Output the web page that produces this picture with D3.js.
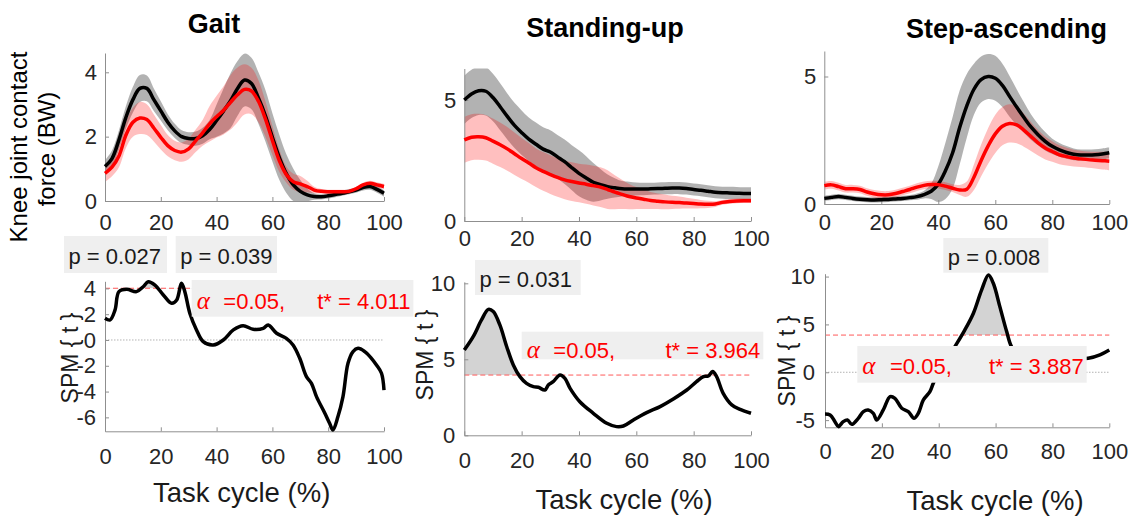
<html>
<head>
<meta charset="utf-8">
<script src="https://cdnjs.cloudflare.com/ajax/libs/d3/7.8.5/d3.min.js"></script>
</head>
<body style="margin: 0;">
<svg id="fig"></svg>
<script>

// task cycle grid (%) for the force curves
var cycle = [0,2.5,5,7.5,10,12.5,15,17.5,20,22.5,25,27.5,30,32.5,35,37.5,40,42.5,45,47.5,50,
             52.5,55,57.5,60,62.5,65,67.5,70,72.5,75,77.5,80,82.5,85,87.5,90,92.5,95,97.5,100]
var xTicks = [0,20,40,60,80,100]

// knee contact force (BW), mean and sd, black and red groups
var gaitBlack   = [1.07,1.32,1.9,2.6,3.15,3.5,3.5,3.15,2.8,2.45,2.18,2.0,1.94,1.94,2.03,2.22,2.5,2.8,3.12,3.5,3.76,
                   3.65,3.2,2.65,1.98,1.35,0.85,0.5,0.3,0.19,0.14,0.13,0.16,0.2,0.24,0.29,0.34,0.42,0.45,0.36,0.24]
var gaitBlackSd = [0.2,0.25,0.3,0.35,0.4,0.42,0.4,0.35,0.3,0.25,0.22,0.2,0.2,0.22,0.25,0.3,0.5,0.7,0.85,0.85,0.82,
                   0.8,0.8,0.8,0.75,0.7,0.6,0.5,0.35,0.2,0.1,0.08,0.08,0.08,0.08,0.08,0.08,0.09,0.1,0.1,0.1]
var gaitRed     = [0.86,1.05,1.4,2.05,2.45,2.58,2.53,2.27,1.98,1.72,1.57,1.52,1.62,1.87,2.12,2.4,2.62,2.82,3.07,3.3,3.47,
                   3.42,3.1,2.55,1.88,1.25,0.82,0.6,0.53,0.45,0.34,0.3,0.29,0.29,0.29,0.3,0.38,0.5,0.55,0.5,0.45]
var gaitRedSd   = [0.27,0.28,0.35,0.4,0.45,0.5,0.48,0.42,0.38,0.33,0.3,0.3,0.32,0.35,0.4,0.55,0.65,0.75,0.85,0.85,0.78,
                   0.72,0.65,0.55,0.45,0.35,0.25,0.25,0.25,0.18,0.1,0.07,0.06,0.06,0.06,0.06,0.06,0.07,0.08,0.08,0.08]

var standBlack   = [5.0,5.25,5.38,5.36,5.1,4.72,4.32,3.95,3.65,3.38,3.17,2.97,2.85,2.65,2.45,2.2,1.97,1.78,1.6,1.5,1.42,
                    1.37,1.33,1.32,1.32,1.32,1.33,1.34,1.35,1.36,1.36,1.34,1.3,1.27,1.23,1.19,1.17,1.16,1.15,1.14,1.14]
var standBlackSd = [1.0,1.0,1.0,1.0,0.98,0.97,0.95,0.93,0.92,0.9,0.9,0.9,0.9,0.9,0.92,0.93,0.95,0.9,0.8,0.65,0.5,
                    0.4,0.32,0.3,0.27,0.26,0.25,0.25,0.25,0.25,0.25,0.25,0.25,0.25,0.25,0.25,0.25,0.25,0.25,0.25,0.25]
var standRed     = [3.35,3.46,3.48,3.44,3.3,3.15,2.98,2.78,2.58,2.4,2.2,2.05,1.92,1.8,1.7,1.63,1.57,1.52,1.46,1.4,1.3,
                    1.19,1.1,1.01,0.95,0.9,0.85,0.82,0.79,0.77,0.76,0.74,0.72,0.7,0.69,0.7,0.77,0.81,0.83,0.84,0.84]
var standRedSd   = [0.95,0.95,0.95,0.94,0.93,0.92,0.9,0.88,0.85,0.82,0.8,0.8,0.8,0.8,0.8,0.8,0.8,0.81,0.82,0.82,0.8,
                    0.7,0.6,0.52,0.45,0.4,0.35,0.32,0.3,0.27,0.25,0.22,0.2,0.17,0.15,0.12,0.1,0.1,0.1,0.1,0.1]

var stepBlack   = [0.22,0.26,0.29,0.26,0.22,0.19,0.17,0.16,0.17,0.18,0.2,0.22,0.25,0.29,0.37,0.5,0.78,1.3,2.0,3.0,3.85,
                   4.5,4.88,5.0,4.93,4.65,4.22,3.8,3.4,3.02,2.72,2.46,2.26,2.12,2.02,1.95,1.92,1.92,1.93,1.96,2.01]
var stepBlackSd = [0.1,0.1,0.1,0.1,0.1,0.1,0.1,0.1,0.1,0.1,0.1,0.1,0.1,0.12,0.15,0.3,0.7,1.1,1.4,1.45,1.25,
                   1.0,0.9,0.88,0.88,0.85,0.8,0.7,0.6,0.5,0.42,0.36,0.3,0.27,0.25,0.23,0.22,0.22,0.22,0.22,0.22]
var stepRed     = [0.72,0.75,0.68,0.6,0.6,0.57,0.47,0.4,0.36,0.36,0.41,0.49,0.57,0.66,0.73,0.76,0.76,0.7,0.62,0.55,0.58,
                   1.05,1.7,2.28,2.75,3.05,3.16,3.1,2.9,2.65,2.4,2.2,2.06,1.93,1.86,1.8,1.77,1.74,1.72,1.7,1.68]
var stepRedSd   = [0.15,0.15,0.15,0.15,0.15,0.15,0.15,0.15,0.15,0.15,0.15,0.15,0.15,0.15,0.15,0.15,0.15,0.15,0.15,0.2,0.3,
                   0.5,0.62,0.7,0.75,0.75,0.75,0.72,0.65,0.57,0.5,0.45,0.4,0.37,0.35,0.33,0.32,0.32,0.33,0.35,0.36]

// SPM{t} curves
var gaitSpmX = [0,1.8,3.6,5,7.8,11.3,13.7,15.5,17.9,20.9,23.9,25.7,27.4,28.6,30.4,32.8,35.2,38.8,42.4,46,49.5,53.1,
                56.7,58.5,61.5,65,67.4,69.8,72.2,74,75.8,78.8,80.5,81.7,83.5,85.3,87.1,88.9,90.7,93.1,95.5,97.3,99.1,100]
var gaitSpmT = [1.68,1.55,2.33,3.75,3.93,3.75,4.13,4.52,4.26,3.49,2.84,3.1,4.39,3.75,2.07,0.78,-0.13,-0.39,0,0.78,1.11,0.83,
                0.9,1.16,0.52,0.13,-0.39,-1.42,-2.84,-3.36,-4.39,-5.68,-6.46,-6.98,-5.94,-4.39,-1.81,-0.9,-0.65,-0.9,-1.42,-1.94,-2.58,-3.88]

var standSpmX = [0,3.1,6,8.4,10.1,12.4,14.8,17.1,19.4,21.7,24.1,25.8,28.1,29.3,31,33.4,35.1,36.9,40.3,45,49.7,53.1,
                 55.5,59,63.6,68.3,72.9,77.6,81,83.4,85.1,86.6,88,90.3,93.3,96.2,100]
var standSpmT = [5.61,6.49,7.59,8.29,8.14,7.26,5.83,4.63,3.86,3.42,3.2,3.16,2.98,3.31,3.53,3.97,3.75,3.09,2.21,1.45,0.79,0.57,
                 0.61,1.01,1.49,1.89,2.39,2.98,3.53,3.86,3.9,4.19,3.86,2.76,2.0,1.71,1.45]

var stepSpmX = [0,1.8,3.5,4.7,6.4,7.9,9.4,11.7,13.5,15.2,17,18.2,20.5,22.9,24.6,27,29.3,31.3,32.8,34.6,36.9,38.1,
                40.4,42.8,45.7,49.2,52.2,55.1,57.5,59.2,61.5,63.9,65.6,68,72,76,80,84,88,92.6,96.7,100]
var stepSpmT = [-4.36,-4.46,-5.16,-5.68,-5.16,-4.98,-5.44,-4.81,-4.11,-3.94,-4.29,-4.98,-3.94,-2.54,-2.72,-3.76,-4.11,-4.81,-4.29,-2.89,-2.02,-1.15,
                0.24,1.29,2.68,4.43,6.17,8.61,10.17,9.3,6.86,4.25,2.68,1.9,1.4,1.2,1.15,1.25,1.4,1.46,1.82,2.33]

var tCrit = [4.011, 3.964, 3.887]
var pValues = [["p = 0.027", "p = 0.039"], ["p = 0.031"], ["p = 0.008"]]
var titles = ["Gait", "Standing-up", "Step-ascending"]


var svg = d3.select("#fig")
  .attr("width", 1132)
  .attr("height", 517)
  .style("font-family", "'Liberation Sans', Arial, sans-serif")

var axisColor = "#8f8f8f"
var tickColor = "#262626"
var plainNum = function(d) { return String(d) }   // MATLAB style: "-6", "4"

function styleAxis(g) {
  g.select(".domain").attr("stroke", axisColor)
  g.selectAll(".tick line").attr("stroke", axisColor)
  g.selectAll(".tick text").attr("fill", tickColor).attr("font-size", 22)
    .attr("font-family", "'Liberation Sans', Arial, sans-serif")
}

function axes(p, x, y) {
  svg.append("g").attr("transform", "translate(0," + p.bottom + ")")
    .call(d3.axisBottom(x).tickValues(xTicks).tickFormat(plainNum)
      .tickSizeInner(-4).tickSizeOuter(0).tickPadding(p.padX))
    .call(styleAxis)
  svg.append("g").attr("transform", "translate(" + p.left + ",0)")
    .call(d3.axisLeft(y).tickValues(p.yticks).tickFormat(plainNum)
      .tickSizeInner(-4).tickSizeOuter(0).tickPadding(p.padY))
    .call(styleAxis)
}

function clipRect(id, p) {
  svg.append("clipPath").attr("id", id).append("rect")
    .attr("x", p.left).attr("y", p.top)
    .attr("width", p.right - p.left).attr("height", p.bottom - p.top)
}

function drawTop(p, id) {
  var x = d3.scaleLinear().domain([0, 100]).range([p.left, p.right])
  var y = d3.scaleLinear().domain(p.ydom).range([p.bottom, p.top])
  clipRect(id, p)
  var plot = svg.append("g").attr("clip-path", "url(#" + id + ")")
  var band = d3.area()
    .x(function(d, i) { return x(cycle[i]) })
    .y0(function(d) { return y(d[0] - d[1]) })
    .y1(function(d) { return y(d[0] + d[1]) })
    .curve(d3.curveCatmullRom)
  var line = d3.line()
    .x(function(d, i) { return x(cycle[i]) })
    .y(function(d) { return y(d) })
    .curve(d3.curveCatmullRom)
  plot.append("path").datum(d3.zip(p.black, p.blackSd)).attr("d", band)
    .attr("fill", "#000").attr("fill-opacity", 0.3)
  plot.append("path").datum(d3.zip(p.red, p.redSd)).attr("d", band)
    .attr("fill", "#ff0000").attr("fill-opacity", 0.25)
  axes(p, x, y)
  svg.append("path").datum(p.black).attr("d", line)
    .attr("fill", "none").attr("stroke", "#000").attr("stroke-width", 3.5)
  svg.append("path").datum(p.red).attr("d", line)
    .attr("fill", "none").attr("stroke", "#ff0000").attr("stroke-width", 3.5)
  svg.append("text").attr("x", p.titleX).attr("y", p.titleY).attr("text-anchor", "middle")
    .attr("font-size", 27).attr("font-weight", "bold").attr("fill", "#000").text(p.title)
}

function drawSpm(p, id) {
  var x = d3.scaleLinear().domain([0, 100]).range([p.left, p.right])
  var y = d3.scaleLinear().domain(p.ydom).range([p.bottom, p.top])
  var pts = d3.zip(p.sx, p.st)
  // region above threshold, for the supra-threshold cluster fill
  svg.append("clipPath").attr("id", id).append("rect")
    .attr("x", p.left).attr("y", p.top)
    .attr("width", p.right - p.left).attr("height", y(p.thr) - p.top)
  if (p.ydom[0] < 0) {
    svg.append("line").attr("x1", p.left).attr("x2", p.right)
      .attr("y1", y(0)).attr("y2", y(0))
      .attr("stroke", "#a0a0a0").attr("stroke-width", 0.8).attr("stroke-dasharray", "1.5,1.5")
  }
  svg.append("path").datum(pts)
    .attr("d", d3.area().x(function(d) { return x(d[0]) }).y0(y(p.thr)).y1(function(d) { return y(d[1]) })
      .curve(d3.curveCatmullRom))
    .attr("clip-path", "url(#" + id + ")")
    .attr("fill", "#d3d3d3")
  svg.append("line").attr("x1", p.left).attr("x2", p.right)
    .attr("y1", y(p.thr)).attr("y2", y(p.thr))
    .attr("stroke", "#ff5a5a").attr("stroke-width", 1).attr("stroke-dasharray", "5,3")
  axes(p, x, y)
  svg.append("path").datum(pts)
    .attr("d", d3.line().x(function(d) { return x(d[0]) }).y(function(d) { return y(d[1]) })
      .curve(d3.curveCatmullRom))
    .attr("fill", "none").attr("stroke", "#000").attr("stroke-width", 3.5).attr("stroke-linejoin", "round")

  // p-value boxes
  p.pBoxes.forEach(function(b, i) {
    svg.append("rect").attr("x", b.x).attr("y", b.y).attr("width", b.w).attr("height", b.h).attr("fill", "#efefef")
    svg.append("text").attr("x", b.x + 4.5).attr("y", b.base).attr("font-size", 22)
      .attr("fill", "#1a1a1a").text(p.pText[i])
  })
  // alpha / critical threshold box
  var a = p.aBox
  svg.append("rect").attr("x", a.x).attr("y", a.y).attr("width", a.w).attr("height", a.h).attr("fill", "#efefef")
  svg.append("text").attr("x", a.x + 5).attr("y", a.base).attr("font-size", 25)
    .attr("font-family", "'Liberation Serif', 'Times New Roman', serif").attr("font-style", "italic")
    .attr("fill", "#ff0000").text("\u03b1")
  svg.append("text").attr("x", a.eqX).attr("y", a.base).attr("font-size", 22)
    .attr("fill", "#ff0000").text("=0.05,")
  svg.append("text").attr("x", a.x + a.w - 3).attr("y", a.base).attr("font-size", 22)
    .attr("text-anchor", "end").attr("fill", "#ff0000").text("t* = " + p.thr.toFixed(3))

  svg.append("text").attr("transform", "translate(" + p.ylabX + "," + p.ylabY + ") rotate(-90)")
    .attr("text-anchor", "middle").attr("font-size", 23).attr("fill", "#1a1a1a").text("SPM { t }")
  svg.append("text").attr("x", p.xlabX).attr("y", p.xlabY).attr("text-anchor", "middle")
    .attr("font-size", 27.5).attr("fill", "#1a1a1a").text("Task cycle (%)")
}

drawTop({left: 105, right: 384, top: 53, bottom: 201, ydom: [0, 4.6], yticks: [0, 2, 4], padX: 13, padY: 8,
  black: gaitBlack, blackSd: gaitBlackSd, red: gaitRed, redSd: gaitRedSd,
  title: titles[0], titleX: 214, titleY: 33}, "c1")
drawTop({left: 464.3, right: 751, top: 68.5, bottom: 221, ydom: [0, 6.3], yticks: [0, 5], padX: 9.5, padY: 8,
  black: standBlack, blackSd: standBlackSd, red: standRed, redSd: standRedSd,
  title: titles[1], titleX: 605, titleY: 37}, "c2")
drawTop({left: 824.3, right: 1109.3, top: 51, bottom: 204, ydom: [0, 6], yticks: [0, 5], padX: 10, padY: 8,
  black: stepBlack, blackSd: stepBlackSd, red: stepRed, redSd: stepRedSd,
  title: titles[2], titleX: 1006.5, titleY: 38}, "c3")

drawSpm({left: 105, right: 384, top: 281.3, bottom: 431.3, ydom: [-7.08, 4.55], yticks: [-6, -4, -2, 0, 2, 4],
  padX: 17, padY: 9, sx: gaitSpmX, st: gaitSpmT, thr: tCrit[0], pText: pValues[0],
  pBoxes: [{x: 64, y: 236, w: 103, h: 37, base: 263.5}, {x: 175.7, y: 236, w: 101.3, h: 37, base: 263.5}],
  aBox: {x: 191.7, y: 280, w: 221.7, h: 36.7, base: 308.5, eqX: 223.3},
  ylabX: 77.5, ylabY: 358, xlabX: 241.7, xlabY: 501.5}, "s1")
drawSpm({left: 464.3, right: 751, top: 281.8, bottom: 435.3, ydom: [0, 10.1], yticks: [0, 5, 10],
  padX: 17, padY: 9, sx: standSpmX, st: standSpmT, thr: tCrit[1], pText: pValues[1],
  pBoxes: [{x: 475, y: 260, w: 105.7, h: 35, base: 286.7}],
  aBox: {x: 521.7, y: 331.7, w: 241.6, h: 27.6, base: 358, eqX: 553.3},
  ylabX: 433.3, ylabY: 355, xlabX: 624, xlabY: 509}, "s2")
drawSpm({left: 825, right: 1109.3, top: 273.7, bottom: 427.3, ydom: [-5.75, 10.3], yticks: [-5, 0, 5, 10],
  padX: 16.5, padY: 10, sx: stepSpmX, st: stepSpmT, thr: tCrit[2], pText: pValues[2],
  pBoxes: [{x: 943.3, y: 238, w: 105, h: 34.7, base: 265}],
  aBox: {x: 857.3, y: 346, w: 229.4, h: 36.7, base: 373.5, eqX: 890},
  ylabX: 795, ylabY: 361, xlabX: 995, xlabY: 510}, "s3")

// shared y label of the force row
var ylab = svg.append("g").attr("fill", "#000").attr("font-size", 24).attr("text-anchor", "middle")
ylab.append("text").attr("transform", "translate(27,147) rotate(-90)").text("Knee joint contact")
ylab.append("text").attr("transform", "translate(55,149) rotate(-90)").text("force (BW)")

</script>
</body>
</html>
